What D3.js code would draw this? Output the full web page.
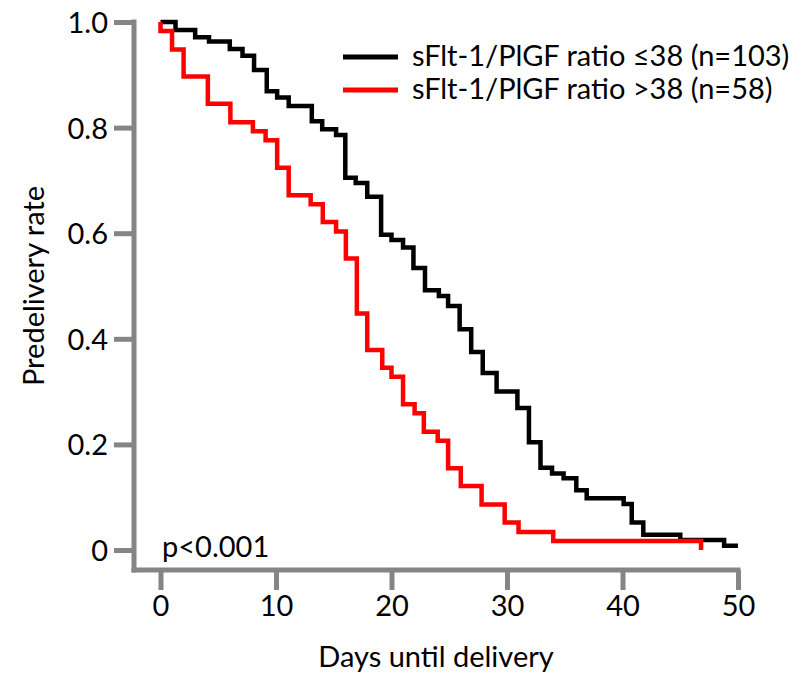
<!DOCTYPE html>
<meta charset="utf-8">
<script src="https://d3js.org/d3.v7.min.js"></script>
<style>
  body { margin: 0; background: #fff; }
  text { font-family: Lato, "Liberation Sans", sans-serif; fill: #000; }
</style>
<body>
<svg id="chart" width="803" height="674"></svg>
<script>
// Kaplan-Meier steps (day of drop, rate after the drop)
const blackDays = [0, 1.3, 3.0, 4.2, 6.0, 7.1, 8.1, 9.2, 10.1, 11.1, 13.1, 14.0, 15.2, 16.0, 16.9, 17.9, 19.1, 20.0, 21.0, 21.9, 22.9, 24.1, 24.9, 25.9, 26.9, 27.9, 29.1, 30.9, 31.9, 32.9, 33.9, 34.9, 36.0, 36.9, 40.1, 40.8, 41.8, 45.0, 48.8, 50];
const blackRate = [1.0, 0.985, 0.971, 0.963, 0.949, 0.936, 0.909, 0.869, 0.857, 0.841, 0.812, 0.797, 0.786, 0.705, 0.695, 0.669, 0.597, 0.587, 0.573, 0.534, 0.492, 0.481, 0.462, 0.418, 0.375, 0.335, 0.300, 0.269, 0.204, 0.156, 0.145, 0.136, 0.113, 0.098, 0.087, 0.052, 0.029, 0.019, 0.008, 0.008];

const redDays = [0, 0, 1.0, 2.0, 4.1, 6.05, 8.0, 9.1, 10.1, 11.1, 13.0, 14.05, 15.2, 16.05, 17.0, 17.9, 19.2, 20.0, 21.0, 22.0, 22.8, 24.0, 24.9, 26.0, 27.8, 29.8, 31.0, 34.0, 46.8];
const redRate = [1.0, 0.983, 0.948, 0.897, 0.845, 0.810, 0.793, 0.776, 0.724, 0.672, 0.655, 0.621, 0.603, 0.552, 0.448, 0.379, 0.345, 0.328, 0.276, 0.259, 0.224, 0.207, 0.155, 0.121, 0.086, 0.052, 0.034, 0.017, 0];

const xTicks = [0, 10, 20, 30, 40, 50];
const yTicks = [0, 0.2, 0.4, 0.6, 0.8, 1.0];
const yTickLabels = ["0", "0.2", "0.4", "0.6", "0.8", "1.0"];

const legendLabels = ["sFlt-1/PlGF ratio \u226438 (n=103)", "sFlt-1/PlGF ratio >38 (n=58)"];
const seriesColors = ["#000000", "#ff0000"];

const svg = d3.select("#chart");

const x = d3.scaleLinear().domain([0, 50]).range([160.5, 738]);
const y = d3.scaleLinear().domain([0, 1]).range([550, 22]);

const axisColor = "#858585";
const axisX0 = 134, axisY0 = 570;
const fs = "29px";

// y axis
const yAxis = svg.append("g")
    .attr("transform", `translate(${axisX0},0)`)
    .call(d3.axisLeft(y).tickValues(yTicks).tickFormat((d, i) => yTickLabels[i])
      .tickSize(20).tickSizeOuter(0).tickPadding(6));
yAxis.select(".domain").remove();
yAxis.selectAll(".tick line").attr("stroke", axisColor).attr("stroke-width", 5);
yAxis.selectAll(".tick text").style("font-size", fs).attr("dy", "0.36em");

// x axis
const xAxis = svg.append("g")
    .attr("transform", `translate(0,${axisY0})`)
    .call(d3.axisBottom(x).tickValues(xTicks).tickFormat(d3.format("d"))
      .tickSize(20).tickSizeOuter(0).tickPadding(5));
xAxis.select(".domain").remove();
xAxis.selectAll(".tick line").attr("stroke", axisColor).attr("stroke-width", 5);
xAxis.selectAll(".tick text").style("font-size", fs);

// axis lines
svg.append("line")
    .attr("x1", axisX0).attr("x2", axisX0)
    .attr("y1", y(1) - 2.5).attr("y2", axisY0 + 2.5)
    .attr("stroke", axisColor).attr("stroke-width", 5);
svg.append("line")
    .attr("x1", axisX0 - 2.5).attr("x2", x(50) + 2.5)
    .attr("y1", axisY0).attr("y2", axisY0)
    .attr("stroke", axisColor).attr("stroke-width", 5);

// step curves
const line = d3.line()
    .x(d => x(d[0]))
    .y(d => y(d[1]))
    .curve(d3.curveStepAfter);

const series = [
  d3.zip(blackDays, blackRate),
  d3.zip(redDays, redRate)
];

svg.append("g")
  .selectAll("path")
  .data(series)
  .join("path")
    .attr("d", line)
    .attr("fill", "none")
    .attr("stroke", (d, i) => seriesColors[i])
    .attr("stroke-width", 4.5)
    .attr("stroke-linejoin", "miter");

// legend
const legend = svg.append("g");
legendLabels.forEach(function(label, i) {
  const ly = 57 + i * 33;
  legend.append("line")
      .attr("x1", 343).attr("x2", 398)
      .attr("y1", ly).attr("y2", ly)
      .attr("stroke", seriesColors[i]).attr("stroke-width", 5);
  legend.append("text")
      .attr("x", 412).attr("y", ly + 9)
      .style("font-size", fs)
      .text(label);
});

// p value
svg.append("text")
    .attr("x", 162).attr("y", 557)
    .style("font-size", fs)
    .text("p<0.001");

// axis titles
svg.append("text")
    .attr("x", 436).attr("y", 667)
    .attr("text-anchor", "middle")
    .style("font-size", fs)
    .text("Days until delivery");

svg.append("text")
    .attr("transform", "translate(44,286) rotate(-90)")
    .attr("text-anchor", "middle")
    .style("font-size", fs)
    .text("Predelivery rate");
</script>
</body>
